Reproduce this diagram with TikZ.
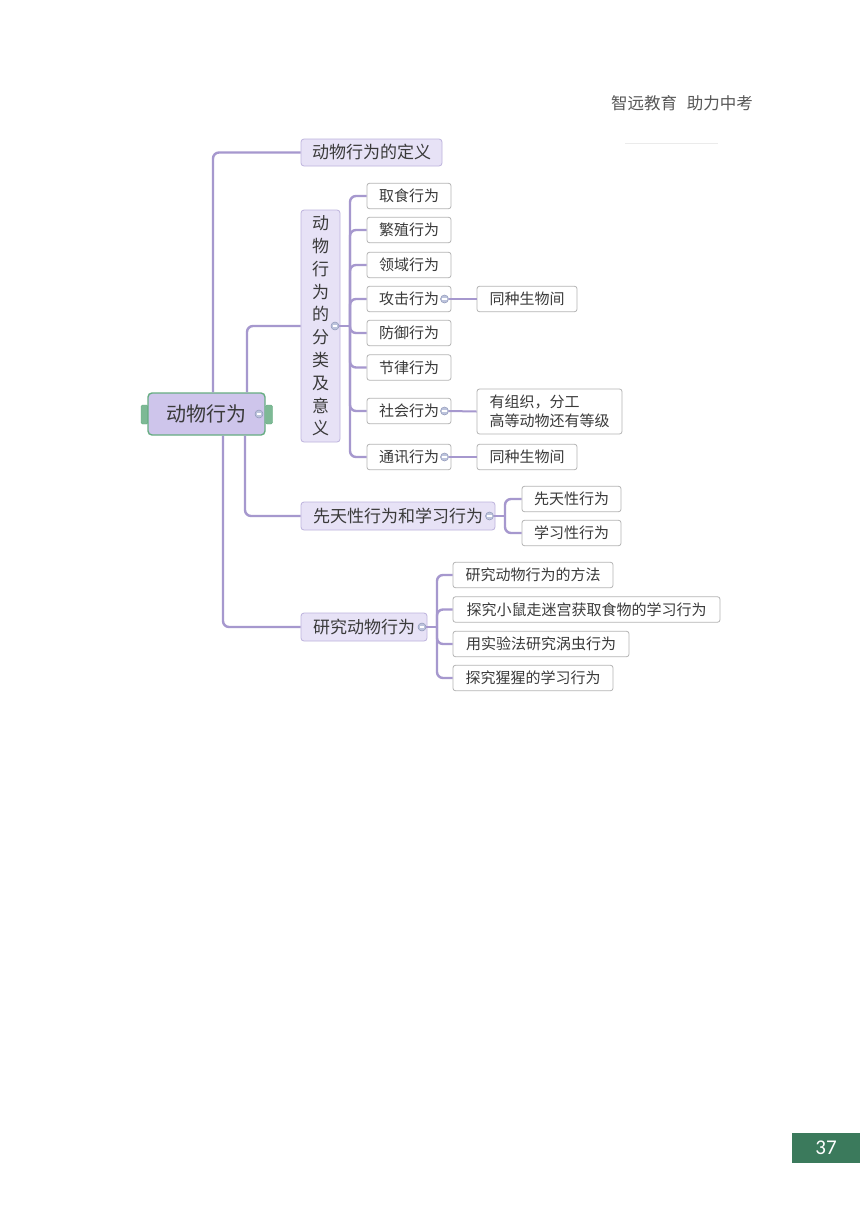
\documentclass[tikz,border=0pt]{standalone}
\usepackage{fontspec}
\setmainfont{Noto Sans CJK SC}
\newfontfamily\numfont{Carlito}
\definecolor{linec}{HTML}{A698CE}
\definecolor{leafb}{HTML}{B4B4B4}
\definecolor{lvlf}{HTML}{E7E2F6}
\definecolor{lvlb}{HTML}{BDB3DD}
\definecolor{rootf}{HTML}{CEC5EB}
\definecolor{rootb}{HTML}{66AD82}
\definecolor{txt}{HTML}{3A3A3A}
\definecolor{iconf}{HTML}{BCC3DC}
\definecolor{iconb}{HTML}{8F97B8}
\definecolor{pgbox}{HTML}{3B7A5C}
\tikzset{
  conn/.style={draw=linec, line width=2.4pt, rounded corners=6pt},
  leaf/.style={draw=leafb, fill=white, rounded corners=2.5pt, line width=0.8pt,
    font=\fontsize{15}{19}\selectfont, text=txt, minimum height=25.5, inner sep=0pt},
  lvl/.style={draw=lvlb, fill=lvlf, rounded corners=3pt, line width=0.8pt,
    font=\fontsize{17}{20}\selectfont, text=txt, minimum height=28, inner sep=0pt},
  tog/.style={circle, draw=iconb, fill=iconf, line width=0.5pt, minimum size=8pt, inner sep=0pt,
    path picture={\draw[white, line width=1.1pt] ([xshift=-2.3pt]path picture bounding box.center) -- ([xshift=2.3pt]path picture bounding box.center);}},
  handle/.style={draw=rootb, fill=rootb!85, rounded corners=1.5pt, minimum width=7pt, minimum height=19pt, inner sep=0pt}
}
\begin{document}
\begin{tikzpicture}[x=1pt,y=-1pt]
\useasboundingbox (0,0) rectangle (860,1216);
\fill[white] (0,0) rectangle (860,1216);

% header
\node[font=\fontsize{16.5}{20}\selectfont, text=txt!85] (hdr) at (682,103) {智远教育\hspace{0.6em}助力中考};
\coordinate (hl1) at (625,143);
\coordinate (hl2) at (718,143);
\draw[black!8, line width=0.6pt] (hl1) -- (hl2);

% page number
\node[fill=pgbox, minimum width=68pt, minimum height=30pt, inner sep=0pt, text=white,
  font=\numfont\fontsize{21}{24}\selectfont] (pg) at (826,1148) {37};

% root
\node[handle] (hl) at (144.5,414.5) {};
\node[handle] (hr) at (269,414.5) {};
\node[draw=rootb, fill=rootf, line width=1.4pt, rounded corners=4pt, minimum width=117pt,
  minimum height=42pt, inner sep=0pt, font=\fontsize{20}{24}\selectfont, text=txt] (root) at (206.5,414) {动物行为\hspace{10pt}};
\node[tog] (troot) at (259,414) {};

% level 1
\node[lvl, minimum width=141pt, minimum height=27pt] (def) at (371.5,152.5) {动物行为的定义};
\node[lvl, minimum width=39pt, minimum height=232pt, align=center,
  font=\fontsize{17}{22.8}\selectfont] (cls) at (320.5,326) {动\\物\\行\\为\\的\\分\\类\\及\\意\\义};
\node[lvl, minimum width=194pt] (inn) at (398,516) {先天性行为和学习行为\hspace{8pt}};
\node[lvl, minimum width=126pt] (res) at (364,627) {研究动物行为\hspace{8pt}};
\node[tog] (tcls) at (335,326) {};
\node[tog] (tinn) at (489.5,516) {};
\node[tog] (tres) at (422,627) {};

\draw[conn] ([xshift=6.5pt]root.north) |- (def.west);
\draw[conn] ([xshift=40.5pt]root.north) |- (cls.west);
\draw[conn] ([xshift=38.5pt]root.south) |- (inn.west);
\draw[conn] ([xshift=16.5pt]root.south) |- (res.west);

% classification children
\node[leaf, minimum width=84pt] (c1) at (409,196) {取食行为};
\node[leaf, minimum width=84pt] (c2) at (409,230) {繁殖行为};
\node[leaf, minimum width=84pt] (c3) at (409,265) {领域行为};
\node[leaf, minimum width=84pt] (c4) at (409,299) {攻击行为\hspace{8pt}};
\node[leaf, minimum width=84pt] (c5) at (409,333) {防御行为};
\node[leaf, minimum width=84pt] (c6) at (409,367.5) {节律行为};
\node[leaf, minimum width=84pt] (c7) at (409,411) {社会行为\hspace{8pt}};
\node[leaf, minimum width=84pt] (c8) at (409,457) {通讯行为\hspace{8pt}};
\node[tog] (t4) at (444.5,299) {};
\node[tog] (t7) at (444.5,411) {};
\node[tog] (t8) at (444.5,457) {};

\coordinate (sc) at (350,326);
\draw[conn] (tcls.east) -- (sc);
\foreach \c in {c1,c2,c3,c4,c5,c6,c7,c8} { \draw[conn] (sc) |- (\c.west); }

% level 3
\node[leaf, minimum width=100pt] (d4) at (527,299) {同种生物间};
\node[leaf, minimum width=145pt, minimum height=45pt, align=left] (d7) at (549.5,411.5) {有组织，分工\\高等动物还有等级};
\node[leaf, minimum width=100pt] (d8) at (527,457) {同种生物间};
\draw[conn, line width=2pt] (t4.east) -- (d4.west);
\draw[conn, line width=2pt] (t7.east) -- (d7.west);
\draw[conn, line width=2pt] (t8.east) -- (d8.west);

% innate / learned children
\node[leaf, minimum width=99pt] (i1) at (571.5,499) {先天性行为};
\node[leaf, minimum width=99pt] (i2) at (571.5,533) {学习性行为};
\coordinate (si) at (505,516);
\draw[conn] (tinn.east) -- (si);
\draw[conn] (si) |- (i1.west);
\draw[conn] (si) |- (i2.west);

% research children
\node[leaf, minimum width=160pt] (r1) at (533,575) {研究动物行为的方法};
\node[leaf, minimum width=267pt] (r2) at (586.5,609.5) {探究小鼠走迷宫获取食物的学习行为};
\node[leaf, minimum width=176pt] (r3) at (541,644) {用实验法研究涡虫行为};
\node[leaf, minimum width=160pt] (r4) at (533,678) {探究猩猩的学习行为};
\coordinate (sr) at (437,627);
\draw[conn] (tres.east) -- (sr);
\foreach \r in {r1,r2,r3,r4} { \draw[conn] (sr) |- (\r.west); }
\end{tikzpicture}
\end{document}
